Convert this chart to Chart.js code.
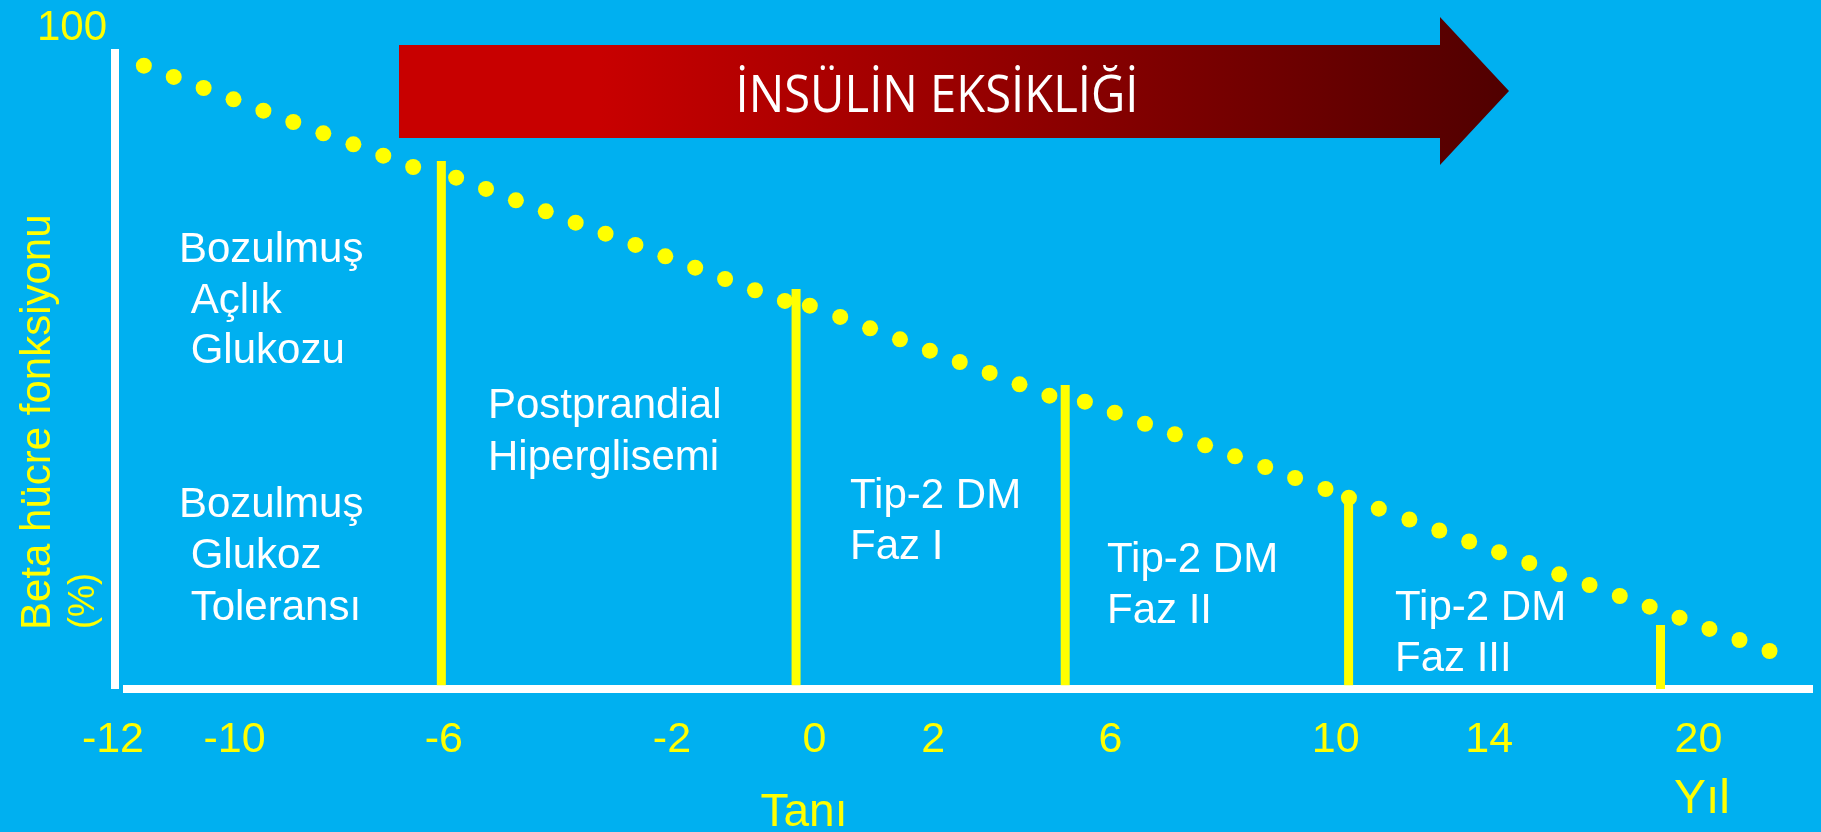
<!DOCTYPE html>
<html>
<head>
<meta charset="utf-8">
<title>Beta hücre fonksiyonu</title>
<script src="https://cdn.jsdelivr.net/npm/chart.js@4.4.1/dist/chart.umd.min.js"></script>
<style>
    html, body { margin: 0; padding: 0; background: #00B0F0; overflow: hidden; }
    canvas { display: block; }
</style>
</head>
<body>
<canvas id="betaChart" width="1821" height="832"></canvas>
<script>
// positions along the time line, 0-100 of the axis length
const dotX = [1.70, 3.46, 5.22, 6.98, 8.74, 10.50, 12.27, 14.04, 15.80, 17.56,
    20.09, 21.85, 23.61, 25.37, 27.13, 28.89, 30.65, 32.41, 34.17, 35.93, 37.69, 39.45,
    40.92, 42.71, 44.47, 46.23, 47.99, 49.75, 51.51, 53.27, 55.03,
    57.12, 58.88, 60.66, 62.42, 64.20, 65.96, 67.74, 69.50, 71.29, 72.67,
    74.43, 76.23, 77.99, 79.75, 81.51, 83.29, 85.05, 86.84, 88.62, 90.38, 92.14, 93.90, 95.67, 97.44];
// beta cell function (%)
const dotY = [97.39, 95.63, 93.91, 92.14, 90.36, 88.59, 86.83, 85.11, 83.33, 81.56,
    79.89, 78.13, 76.36, 74.64, 72.86, 71.14, 69.38, 67.61, 65.83, 64.06, 62.30, 60.63,
    59.89, 58.13, 56.36, 54.64, 52.86, 51.09, 49.38, 47.61, 45.83,
    44.89, 43.17, 41.45, 39.80, 38.08, 36.36, 34.69, 32.97, 31.25, 29.89,
    28.17, 26.48, 24.77, 23.05, 21.38, 19.69, 17.92, 16.25, 14.53, 12.86, 11.14, 9.38, 7.66, 5.94];

// stage separators
const stageX = [19.22, 40.11, 55.96, 72.65, 91.02];
const stageTop = [82.5, 62.5, 47.5, 29.8, 10.0];
const stageBottom = [0.6, 0.6, 0.6, 0.6, 0];

// year labels under the axis
const yearLabels = ["-12", "-10", "-6", "-2", "0", "2", "6", "10", "14", "20"];
const yearPos = [-0.12, 7.04, 19.37, 32.80, 41.20, 48.18, 58.63, 71.89, 80.93, 93.25];

const YELLOW = "#FFFF00";
const WHITE = "#FFFFFF";
const SANS = '"Liberation Sans", Arial, sans-serif';

let datasets = [{
    type: "scatter",
    data: dotX.map((x, i) => ({ x: x, y: dotY[i] })),
    pointRadius: 8,
    pointHoverRadius: 8,
    backgroundColor: YELLOW,
    borderWidth: 0,
    showLine: false,
    order: 0
}];

stageX.forEach((x, i) => {
    datasets.push({
        type: "line",
        data: [{ x: x, y: stageBottom[i] }, { x: x, y: stageTop[i] }],
        borderColor: YELLOW,
        borderWidth: 9,
        borderCapStyle: "butt",
        pointRadius: 0,
        fill: false,
        order: 1
    });
});

const slidePlugin = {
    id: "slide",
    beforeDraw(chart) {
        const ctx = chart.ctx;
        ctx.save();
        ctx.fillStyle = "#00B0F0";
        ctx.fillRect(0, 0, chart.width, chart.height);
        ctx.restore();
    },
    beforeDatasetsDraw(chart) {
        const ctx = chart.ctx;
        const a = chart.chartArea;
        ctx.save();
        // axes
        ctx.fillStyle = WHITE;
        ctx.fillRect(a.left - 4, a.top, 8, a.bottom - a.top);
        ctx.fillRect(a.left + 8, a.bottom - 4, a.right - a.left - 8, 8);

        // insulin deficiency arrow
        let grad = ctx.createLinearGradient(600, 0, 1509, 0);
        grad.addColorStop(0, "#C80000");
        grad.addColorStop(1, "#500000");
        ctx.fillStyle = grad;
        ctx.beginPath();
        ctx.moveTo(399, 45);
        ctx.lineTo(1440, 45);
        ctx.lineTo(1440, 17);
        ctx.lineTo(1509, 91);
        ctx.lineTo(1440, 165);
        ctx.lineTo(1440, 138);
        ctx.lineTo(399, 138);
        ctx.closePath();
        ctx.fill();

        ctx.fillStyle = WHITE;
        ctx.font = '52px "Open Sans", sans-serif';
        ctx.textAlign = "center";
        ctx.textBaseline = "alphabetic";
        let txt = "İNSÜLİN EKSİKLİĞİ";
        let w = ctx.measureText(txt).width;
        ctx.translate(937, 112);
        ctx.scale(403 / w, 1);
        ctx.fillText(txt, 0, 0);
        ctx.restore();
    },
    afterDraw(chart) {
        const ctx = chart.ctx;
        const xs = chart.scales.x;
        const ys = chart.scales.y;
        ctx.save();
        ctx.textBaseline = "alphabetic";

        // year ticks
        ctx.fillStyle = YELLOW;
        ctx.font = "43px " + SANS;
        ctx.textAlign = "center";
        yearLabels.forEach((lab, i) => {
            ctx.fillText(lab, xs.getPixelForValue(yearPos[i]), 752);
        });
        ctx.font = "46px " + SANS;
        ctx.fillText("Tanı", 804, 826);
        ctx.font = "48px " + SANS;
        ctx.fillText("Yıl", 1702, 813);

        // 100 label
        ctx.font = "42px " + SANS;
        ctx.textAlign = "right";
        ctx.fillText("100", xs.left - 8, ys.getPixelForValue(100) - 9);

        // y title
        ctx.textAlign = "left";
        ctx.save();
        ctx.translate(50, 630);
        ctx.rotate(-Math.PI / 2);
        ctx.fillText("Beta hücre fonksiyonu", 0, 0);
        ctx.restore();
        ctx.save();
        ctx.font = "36px " + SANS;
        ctx.translate(94, 629);
        ctx.rotate(-Math.PI / 2);
        ctx.fillText("(%)", 0, 0);
        ctx.restore();

        // stage notes
        ctx.fillStyle = WHITE;
        ctx.font = "42px " + SANS;
        const notes = [
            ["Bozulmuş", 179, 262], [" Açlık", 179, 313], [" Glukozu", 179, 363],
            ["Bozulmuş", 179, 517], [" Glukoz", 179, 568], [" Toleransı", 179, 620],
            ["Postprandial", 488, 418], ["Hiperglisemi", 488, 470],
            ["Tip-2 DM", 850, 508], ["Faz I", 850, 559],
            ["Tip-2 DM", 1107, 572], ["Faz II", 1107, 623],
            ["Tip-2 DM", 1395, 620], ["Faz III", 1395, 671]
        ];
        notes.forEach(n => ctx.fillText(n[0], n[1], n[2]));
        ctx.restore();
    }
};

new Chart(document.getElementById("betaChart"), {
    data: { datasets: datasets },
    options: {
        responsive: false,
        animation: false,
        devicePixelRatio: 1,
        events: [],
        layout: { padding: { left: 115, right: 2, top: 49, bottom: 143 } },
        scales: {
            x: { type: "linear", min: 0, max: 100, display: false },
            y: { type: "linear", min: 0, max: 100, display: false }
        },
        plugins: {
            legend: { display: false },
            tooltip: { enabled: false }
        }
    },
    plugins: [slidePlugin]
});
</script>
</body>
</html>
